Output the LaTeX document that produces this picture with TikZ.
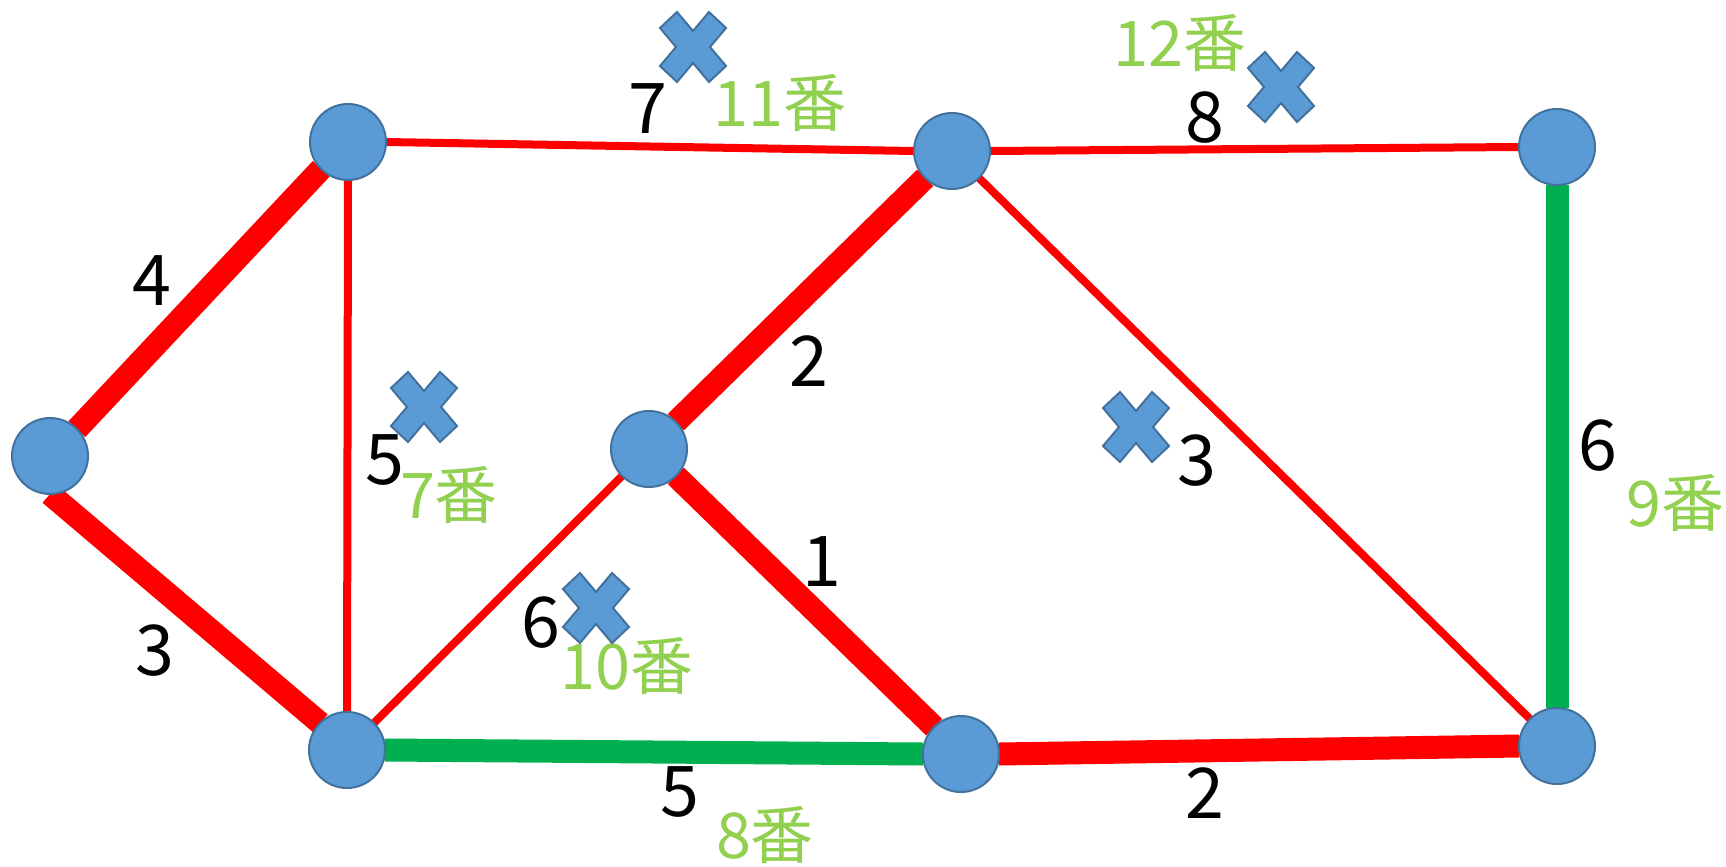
\documentclass[tikz,border=0pt]{standalone}
\usepackage{fontspec}
\setmainfont{Noto Sans CJK JP}
\definecolor{nodeblue}{HTML}{5B9BD5}
\definecolor{nodeedge}{HTML}{41719C}
\definecolor{pathgreen}{HTML}{00B050}
\definecolor{labgreen}{HTML}{92D050}
\pgfdeclarelayer{bottom}
\pgfdeclarelayer{edges}
\pgfsetlayers{bottom,edges,main}
\begin{document}
\begin{tikzpicture}[x=1pt,y=-1pt,
  vtx/.style={circle,fill=nodeblue,draw=nodeedge,line width=2pt,minimum size=76pt,inner sep=0pt,outer sep=0pt},
  thinedge/.style={red,line width=8pt},
  thickedge/.style={red,line width=23pt},
  greenedge/.style={pathgreen,line width=23pt},
  wt/.style={font=\fontsize{70}{84}\selectfont,inner sep=0pt,text=black},
  ban/.style={font=\fontsize{63}{76}\selectfont,inner sep=0pt,text=labgreen},
  xmark/.pic={\filldraw[fill=nodeblue,draw=nodeedge,line width=2pt]
    (-33,-19) -- (-16,-35) -- (0,-16) -- (16,-35) -- (33,-19) -- (17,0) --
    (33,19) -- (16,35) -- (0,16) -- (-16,35) -- (-33,19) -- (-17,0) -- cycle;}
]
\begin{pgfonlayer}{bottom}
\useasboundingbox (0,0) rectangle (1726,867);
\fill[white] (0,0) rectangle (1726,867);
\end{pgfonlayer}

% vertices
\node[vtx] (A) at (50,456) {};
\node[vtx] (B) at (348,142) {};
\node[vtx] (C) at (952,151) {};
\node[vtx] (D) at (1557,147) {};
\node[vtx] (E) at (649,449) {};
\node[vtx] (F) at (347,750) {};
\node[vtx] (G) at (961,754) {};
\node[vtx] (H) at (1557,746) {};

% edges (attached to connection points, under the vertices)
\begin{pgfonlayer}{edges}
\draw[thickedge] (A.north east) -- (B.south west);
\draw[thickedge] (A.south) -- (F.north west);
\draw[thinedge] (B.east) -- (C.west);
\draw[thinedge] (B.south) -- (F.north);
\draw[thinedge] (C.east) -- (D.west);
\draw[thickedge] (C.south west) -- (E.north east);
\draw[thinedge] (C.south east) -- (H.north west);
\draw[thinedge] (E.south west) -- (F.north east);
\draw[thickedge] (E.south east) -- (G.north west);
\draw[greenedge] (F.east) -- (G.west);
\draw[thickedge] (G.east) -- (H.west);
\draw[greenedge] (D.south) -- (H.north);
\end{pgfonlayer}

% weights
\node[wt] (wAB) at (152,281) {4};
\node[wt] (wAF) at (155,651) {3};
\node[wt] (wBF) at (385,460) {5};
\node[wt] (wBC) at (648,109) {7};
\node[wt] (wCD) at (1205,118) {8};
\node[wt] (wCE) at (809,361) {2};
\node[wt] (wCH) at (1197,461) {3};
\node[wt] (wEF) at (541,623) {6};
\node[wt] (wEG) at (822,562) {1};
\node[wt] (wFG) at (680,792) {5};
\node[wt] (wGH) at (1205,793) {2};
\node[wt] (wDH) at (1598,446) {6};

% order labels
\node[ban] (b7) at (449,495) {7番};
\node[ban] (b11) at (780,103) {11番};
\node[ban] (b12) at (1180,43) {12番};
\node[ban] (b10) at (627,666) {10番};
\node[ban] (b8) at (765,835) {8番};
\node[ban] (b9) at (1675,503) {9番};

% rejected marks
\pic at (693,47) {xmark};
\pic at (1281,87) {xmark};
\pic at (424,407) {xmark};
\pic at (596,608) {xmark};
\pic at (1136,427) {xmark};
\end{tikzpicture}
\end{document}
